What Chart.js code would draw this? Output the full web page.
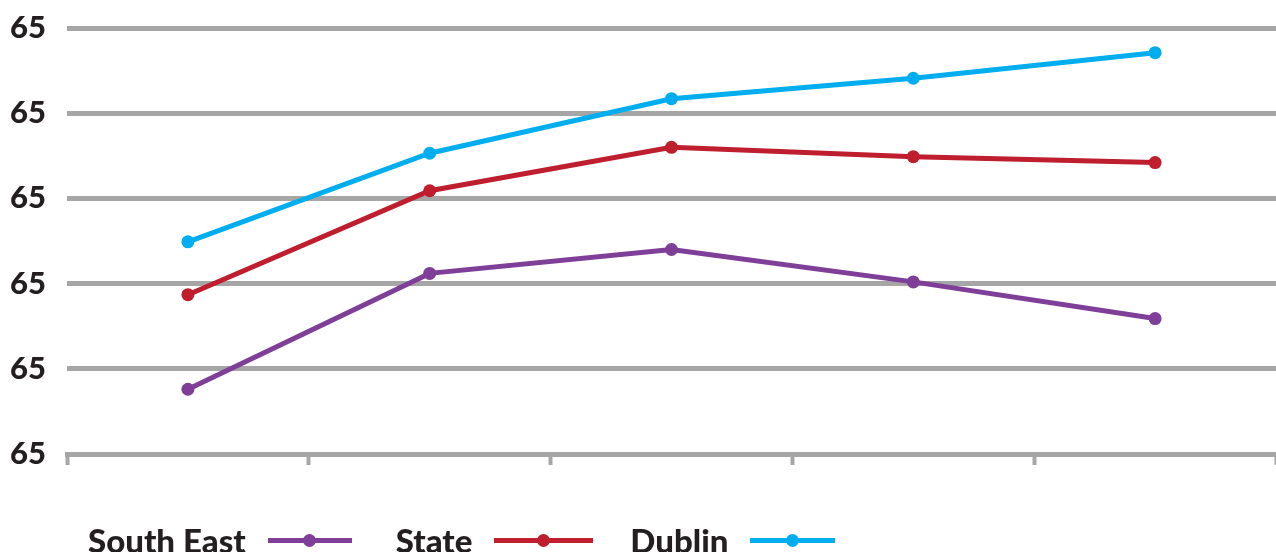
<!DOCTYPE html>
<html>
<head>
<meta charset="utf-8">
<script src="https://cdn.jsdelivr.net/npm/chart.js@4.4.1/dist/chart.umd.min.js"></script>
<style>
  html, body { margin: 0; padding: 0; background: #ffffff; overflow: hidden; }
  #wrap { position: relative; width: 1276px; height: 552px; }
  #chart { position: absolute; left: 0; top: 0; }
  #legend {
    position: absolute; left: 88px; top: 522px; height: 36px;
    display: flex; align-items: center;
    font-family: Lato, "Open Sans", sans-serif; font-weight: 900; font-size: 33px;
    color: #231f20; white-space: nowrap;
  }
  .item { display: flex; align-items: center; }
  .swatch { position: relative; height: 5px; margin-left: 22px; }
  .swatch i { position: absolute; top: -4px; width: 13px; height: 13px; border-radius: 50%; }
</style>
</head>
<body>
<div id="wrap">
  <canvas id="chart" width="1276" height="552"></canvas>
  <div id="legend"></div>
</div>
<script>
// Five periods along the x axis (no labels are printed on that axis)
const categories = ['1', '2', '3', '4', '5'];

// Series values, in grid units above the baseline
const southEast = [0.76, 2.12, 2.40, 2.02, 1.59];
const state     = [1.87, 3.09, 3.60, 3.49, 3.42];
const dublin    = [2.49, 3.53, 4.17, 4.41, 4.71];

// Labels printed beside the horizontal grid lines, bottom to top
const yTickLabels = ['65', '65', '65', '65', '65', '65'];

const seriesNames  = ['South East', 'State', 'Dublin'];
const seriesColors = ['#7f3f98', '#be1e2d', '#00aeef'];
const seriesValues = [southEast, state, dublin];

const GRID = '#a6a6a6';

const datasets = seriesValues.map((vals, i) => ({
  label: seriesNames[i],
  data: vals,
  borderColor: seriesColors[i],
  backgroundColor: seriesColors[i],
  borderWidth: 5,
  pointRadius: 6.5,
  pointHoverRadius: 6.5,
  pointBorderWidth: 0,
  tension: 0,
  fill: false,
  clip: false
}));

new Chart(document.getElementById('chart'), {
  type: 'line',
  data: { labels: categories, datasets: datasets.slice().reverse() },
  options: {
    responsive: false,
    devicePixelRatio: 1,
    animation: false,
    layout: { autoPadding: false, padding: { top: 28, bottom: 87, left: 0, right: 0 } },
    plugins: { legend: { display: false }, tooltip: { enabled: false } },
    scales: {
      x: {
        type: 'category',
        offset: true,
        afterFit: (scale) => { scale.paddingLeft = 0; scale.paddingRight = 0; scale.height = 11; },
        grid: {
          offset: true,
          drawOnChartArea: false,
          drawTicks: true,
          tickLength: 11,
          tickWidth: 4,
          tickColor: GRID
        },
        border: { display: true, color: GRID, width: 5 },
        ticks: { display: false }
      },
      y: {
        min: 0,
        max: 5,
        afterFit: (scale) => { scale.width = 67; scale.paddingTop = 0; scale.paddingBottom = 0; },
        grid: { color: GRID, lineWidth: 5, drawTicks: false },
        border: { display: false },
        ticks: {
          stepSize: 1,
          padding: 21,
          color: '#231f20',
          font: { family: 'Lato', weight: 900, size: 31 },
          callback: (v, i) => yTickLabels[i]
        }
      }
    }
  }
});

// Legend: name first, then a line sample with a dot
const legend = document.getElementById('legend');
const swatchWidths = [84, 99, 85];
const itemGaps = [44, 37, 0];
seriesNames.forEach((name, i) => {
  const item = document.createElement('div');
  item.className = 'item';
  item.style.marginRight = itemGaps[i] + 'px';
  const text = document.createElement('span');
  text.textContent = name;
  const sw = document.createElement('div');
  sw.className = 'swatch';
  sw.style.width = swatchWidths[i] + 'px';
  sw.style.background = seriesColors[i];
  const dot = document.createElement('i');
  dot.style.background = seriesColors[i];
  dot.style.left = (swatchWidths[i] / 2 - 6.5) + 'px';
  sw.appendChild(dot);
  item.appendChild(text);
  item.appendChild(sw);
  legend.appendChild(item);
});
</script>
</body>
</html>
